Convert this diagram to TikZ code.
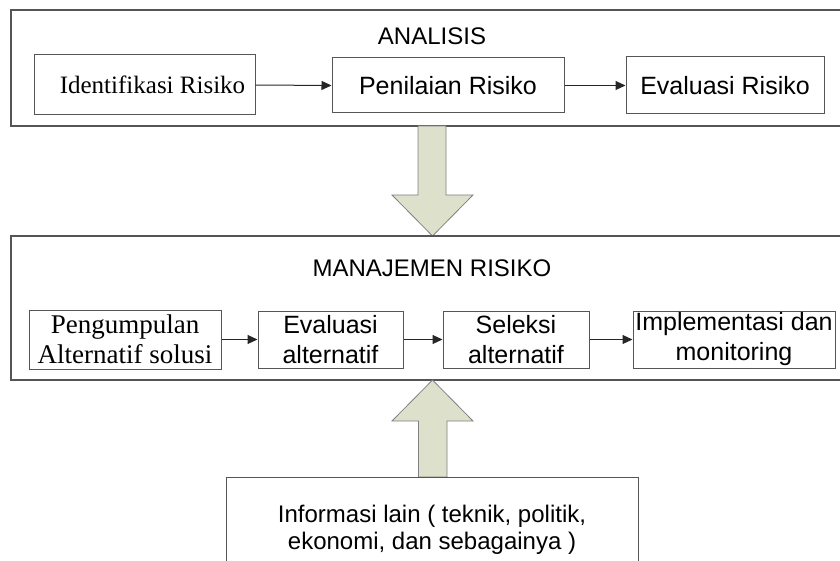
\documentclass[tikz,border=0pt]{standalone}
\usepackage{fontspec}
\setmainfont{Liberation Sans}
\newfontfamily\serifface{Liberation Serif}
\usetikzlibrary{arrows.meta}
\definecolor{arrowfill}{RGB}{221,225,204}
\definecolor{edgegray}{RGB}{85,85,85}
\begin{document}
\begin{tikzpicture}[x=1pt,y=-1pt,
  panel/.style={draw=edgegray,line width=1.6pt},
  stepbox/.style={draw=edgegray,line width=1pt,inner sep=0pt,align=center,
    font=\fontsize{25}{30}\selectfont},
  serifbox/.style={stepbox,font=\serifface\fontsize{25}{29}\selectfont},
  flow/.style={-{Triangle[length=10pt,width=9pt]},line width=1pt,draw=black!85},
  bigarrow/.style={fill=arrowfill,draw=gray,line width=0.8pt},
  title/.style={font=\fontsize{24}{28}\selectfont}]
\useasboundingbox (0,0) rectangle (840,561);

% ANALISIS panel
\draw[panel] (11,10) rectangle (850,126);
\node[title] (analisis) at (432,36) {ANALISIS};
\node[serifbox,minimum width=221pt,minimum height=60pt] (id) at (144.5,85)
  {\hspace*{16pt}Identifikasi Risiko};
\node[stepbox,minimum width=232pt,minimum height=55pt] (pen) at (448,85.5) {Penilaian Risiko};
\node[stepbox,minimum width=198pt,minimum height=57pt] (eva) at (725,85.5) {Evaluasi Risiko};
\draw[flow] (id.east) -- (pen.west);
\draw[flow] (pen.east) -- (eva.west);

% block arrow from ANALISIS down to MANAJEMEN RISIKO
\draw[bigarrow] (418,126) -- (446,126) -- (446,195) -- (473,195) -- (432.5,236)
  -- (392,195) -- (418,195) -- cycle;

% MANAJEMEN RISIKO panel
\draw[panel,line width=1.3pt] (11,236) rectangle (850,380);
\node[title] (manajemen) at (432,268) {MANAJEMEN RISIKO};
\node[serifbox,font=\serifface\fontsize{27}{30}\selectfont,
  minimum width=192pt,minimum height=59pt] (pg) at (125,339.5)
  {Pengumpulan\\Alternatif solusi};
\node[stepbox,minimum width=145pt,minimum height=57pt] (ev) at (330.5,339.5)
  {Evaluasi\\alternatif};
\node[stepbox,minimum width=146pt,minimum height=57pt] (se) at (516,339.5)
  {Seleksi\\alternatif};
\node[stepbox,minimum width=202pt,minimum height=57pt] (im) at (734,339.5)
  {Implementasi dan\\monitoring};
\draw[flow] (pg.east) -- (ev.west);
\draw[flow] (ev.east) -- (se.west);
\draw[flow] (se.east) -- (im.west);

% block arrow from the other information up to MANAJEMEN RISIKO
\draw[bigarrow] (418.5,477) -- (418.5,421) -- (392,421) -- (432.5,380) -- (473,421)
  -- (447,421) -- (447,477) -- cycle;

% other information box, running past the lower edge
\draw[draw=edgegray,line width=1pt] (226,575) -- (226,477) -- (638,477) -- (638,575);
\node[align=center,font=\fontsize{24}{27}\selectfont] (info) at (432,530)
  {Informasi lain ( teknik, politik,\\ekonomi, dan sebagainya )};
\end{tikzpicture}
\end{document}
